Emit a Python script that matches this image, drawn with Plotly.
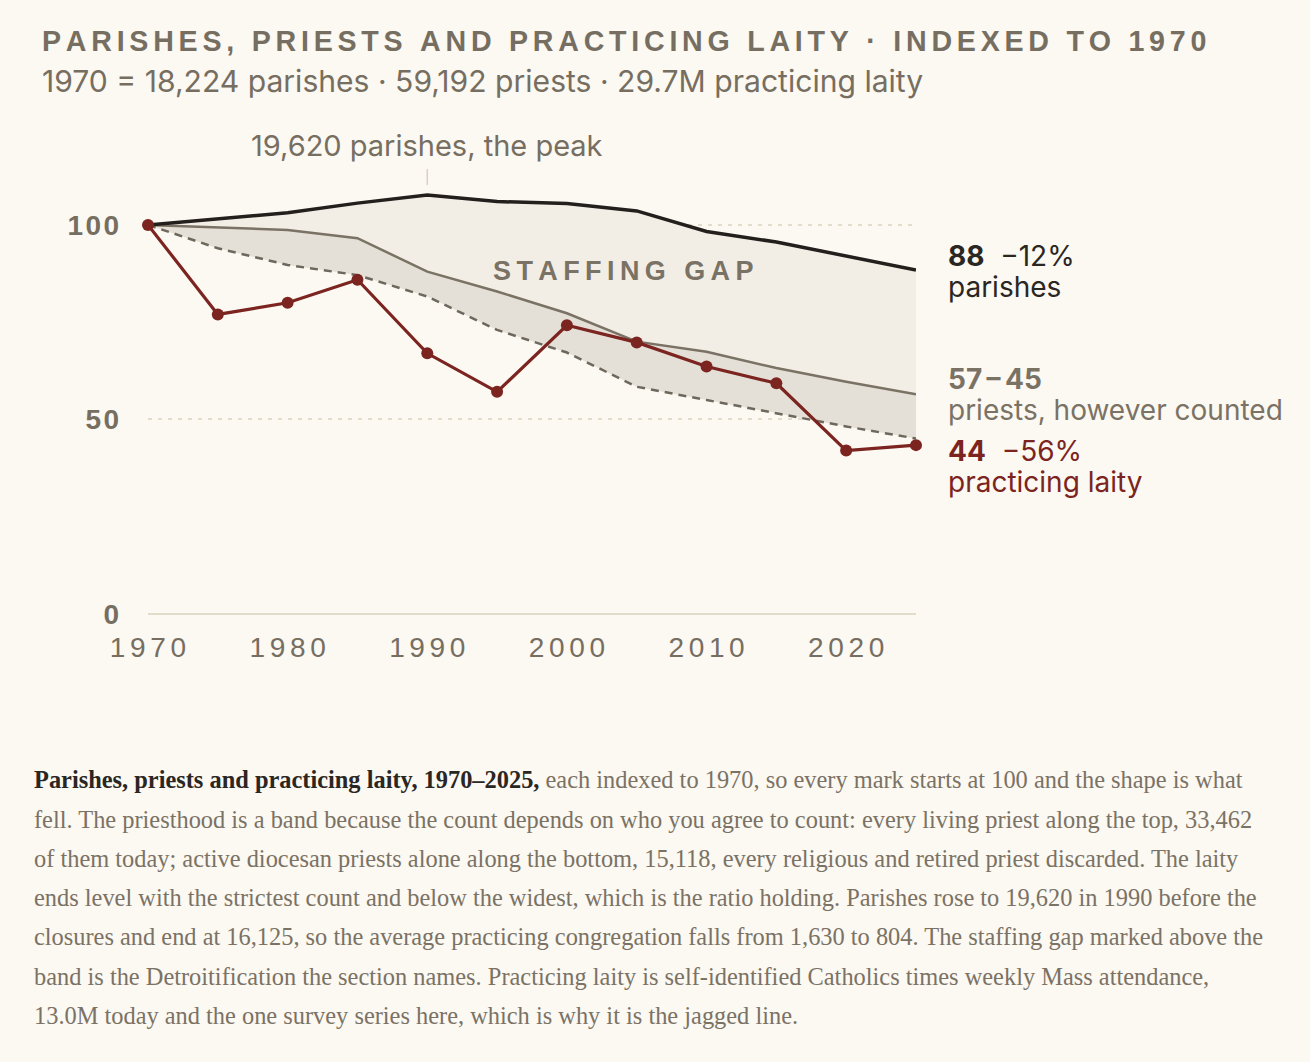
import plotly.graph_objects as go

# ------------ Data (index, 1970 = 100) ------------
YEARS = [1970, 1975, 1980, 1985, 1990, 1995, 2000, 2005, 2010, 2015, 2020, 2025]
PARISHES = [100, 101.5, 103.1, 105.6, 107.7, 106.0, 105.5, 103.6, 98.3, 95.6, 92.0, 88.4]
PRIESTS_ALL = [100, 99.4, 98.7, 96.6, 88.0, 82.9, 77.3, 70.0, 67.4, 63.2, 59.7, 56.5]
PRIESTS_ACTIVE = [100, 94.0, 89.7, 87.1, 81.6, 73.0, 67.2, 58.4, 55.0, 51.6, 48.2, 45.1]
LAITY = [100, 77.0, 80.0, 85.9, 67.0, 57.1, 74.2, 69.8, 63.6, 59.3, 42.0, 43.4]

X_TICKS = [1970, 1980, 1990, 2000, 2010, 2020]
Y_TICKS = [0, 50, 100]
PEAK_YEAR = 1990

TITLE = "PARISHES, PRIESTS AND PRACTICING LAITY · INDEXED TO 1970"
SUBTITLE = "1970 = 18,224 parishes · 59,192 priests · 29.7M practicing laity"
PEAK_NOTE = "19,620 parishes, the peak"
GAP_NOTE = "STAFFING GAP"
# end labels: (first line, second line)
END_PARISHES = ("<b>88</b>\u00a0\u00a0−12%", "parishes")
END_PRIESTS = ("<b>57\u2009–\u200945</b>", "priests, however counted")
END_LAITY = ("<b>44</b>\u00a0\u00a0−56%", "practicing laity")
CAPTION = [
    "<span style='color:#2a2622'><b>Parishes, priests and practicing laity, 1970–2025,</b></span> each indexed to 1970, so every mark starts at 100 and the shape is what",
    "fell. The priesthood is a band because the count depends on who you agree to count: every living priest along the top, 33,462",
    "of them today; active diocesan priests alone along the bottom, 15,118, every religious and retired priest discarded. The laity",
    "ends level with the strictest count and below the widest, which is the ratio holding. Parishes rose to 19,620 in 1990 before the",
    "closures and end at 16,125, so the average practicing congregation falls from 1,630 to 804. The staffing gap marked above the",
    "band is the Detroitification the section names. Practicing laity is self-identified Catholics times weekly Mass attendance,",
    "13.0M today and the one survey series here, which is why it is the jagged line.",
]

# ------------ Styles ------------
BG = "#fcf8f2"
INK = "#2a2622"
MUTED = "#766e61"
RED = "#7b2420"
GRID = "#e3dccb"
FILL_GAP = "#f2eee6"
FILL_BAND = "#e4e0d7"
SANS = "Liberation Sans, Arial, sans-serif"
LABEL = "Inter, Liberation Sans, sans-serif"
SERIF = "Liberation Serif, Times New Roman, serif"

W, H = 1310, 1062
M = dict(l=148, r=394, t=186, b=448)
PLOT_H = H - M["t"] - M["b"]
PLOT_W = W - M["l"] - M["r"]


def spaced(s, gap="\u200a"):
    return gap.join(s)


def py(px):
    # pixel row -> paper y
    return (H - M["b"] - px) / PLOT_H


def px_x(px):
    # pixel column -> paper x
    return (px - M["l"]) / PLOT_W


fig = go.Figure()

# fills first, lines on top
fig.add_trace(go.Scatter(x=YEARS, y=PARISHES, mode="lines", line=dict(width=0),
                         hoverinfo="skip", showlegend=False))
fig.add_trace(go.Scatter(x=YEARS, y=PRIESTS_ALL, mode="lines", line=dict(width=0),
                         fill="tonexty", fillcolor=FILL_GAP, hoverinfo="skip", showlegend=False))
fig.add_trace(go.Scatter(x=YEARS, y=PRIESTS_ACTIVE, mode="lines", line=dict(width=0),
                         fill="tonexty", fillcolor=FILL_BAND, hoverinfo="skip", showlegend=False))

fig.add_trace(go.Scatter(x=YEARS, y=PRIESTS_ACTIVE, mode="lines", name="active priests",
                         line=dict(color="#6e675c", width=2.5, dash="8px,6px"), showlegend=False))
fig.add_trace(go.Scatter(x=YEARS, y=PRIESTS_ALL, mode="lines", name="all priests",
                         line=dict(color="#7a7264", width=2.5), showlegend=False))
fig.add_trace(go.Scatter(x=YEARS, y=PARISHES, mode="lines", name="parishes",
                         line=dict(color="#231f1c", width=3.5), showlegend=False))
fig.add_trace(go.Scatter(x=YEARS, y=LAITY, mode="lines+markers", name="practicing laity",
                         line=dict(color=RED, width=3.2), marker=dict(size=12, color=RED),
                         cliponaxis=False, showlegend=False))

# ------------ Annotations ------------
ann = []
ann.append(dict(xref="paper", yref="paper", x=px_x(40), y=py(41),
                text=spaced(TITLE, "\u2006"), showarrow=False, xanchor="left", yanchor="middle",
                font=dict(family=SANS, size=28.6, color=MUTED, weight=700)))
ann.append(dict(xref="paper", yref="paper", x=px_x(40), y=py(81),
                text=SUBTITLE, showarrow=False, xanchor="left", yanchor="middle",
                font=dict(family=LABEL, size=30.1, color=MUTED)))

pk = YEARS.index(PEAK_YEAR)
ann.append(dict(x=PEAK_YEAR, y=PARISHES[pk], text=PEAK_NOTE, showarrow=True, ax=0, ay=-49,
                arrowhead=0, arrowwidth=1.5, arrowcolor="#d9d1c2", standoff=10, startstandoff=4,
                font=dict(family=LABEL, size=29, color=MUTED)))

ann.append(dict(xref="paper", yref="paper", x=px_x(623), y=py(271), text=spaced(GAP_NOTE, "\u2009"),
                showarrow=False, xanchor="center", yanchor="middle",
                font=dict(family=SANS, size=27, color="#7a7264", weight=700)))

for (top, bottom), yv, shift, col in [
    (END_PARISHES, PARISHES[-1], -1.5, INK),
    (END_PRIESTS, PRIESTS_ALL[-1], 0, "#7a7264"),
    (END_LAITY, LAITY[-1], -21.5, RED),
]:
    for text, dy in [(top, 15.5), (bottom, -15.5)]:
        ann.append(dict(x=YEARS[-1], y=yv, xshift=30, yshift=shift + dy, xanchor="left",
                        yanchor="middle", text=text, showarrow=False, align="left",
                        font=dict(family=LABEL, size=28, color=col)))

cap_rows = [779, 819, 858, 897, 937, 976, 1015]
for line, row in zip(CAPTION, cap_rows):
    ann.append(dict(xref="paper", yref="paper", x=px_x(32), y=py(row),
                    text=line, showarrow=False, xanchor="left", yanchor="middle",
                    font=dict(family=SERIF, size=24.4, color="#7a7264")))

fig.update_layout(
    width=W, height=H, margin=M,
    paper_bgcolor=BG, plot_bgcolor=BG,
    annotations=ann,
    xaxis=dict(range=[YEARS[0], YEARS[-1]], tickvals=X_TICKS,
               ticktext=[spaced(str(t), "\u2006") for t in X_TICKS],
               showgrid=False, zeroline=False, showline=False, ticks="",
               ticklabelstandoff=14,
               tickfont=dict(family=SANS, size=28, color=MUTED)),
    yaxis=dict(range=[0, 110], tickvals=Y_TICKS,
               ticktext=[spaced(str(t), "\u200a") for t in Y_TICKS],
               showgrid=True, gridcolor=GRID, gridwidth=1.5, griddash="4px,6px",
               zeroline=True, zerolinecolor=GRID, zerolinewidth=2,
               showline=False, ticks="", ticklabelstandoff=28, layer="above traces",
               tickfont=dict(family=SANS, size=28, color=MUTED, weight=600)),
    hovermode=False,
)

fig.write_html("out.html", config={"displayModeBar": False},
               post_script="document.body.style.margin='0';")
